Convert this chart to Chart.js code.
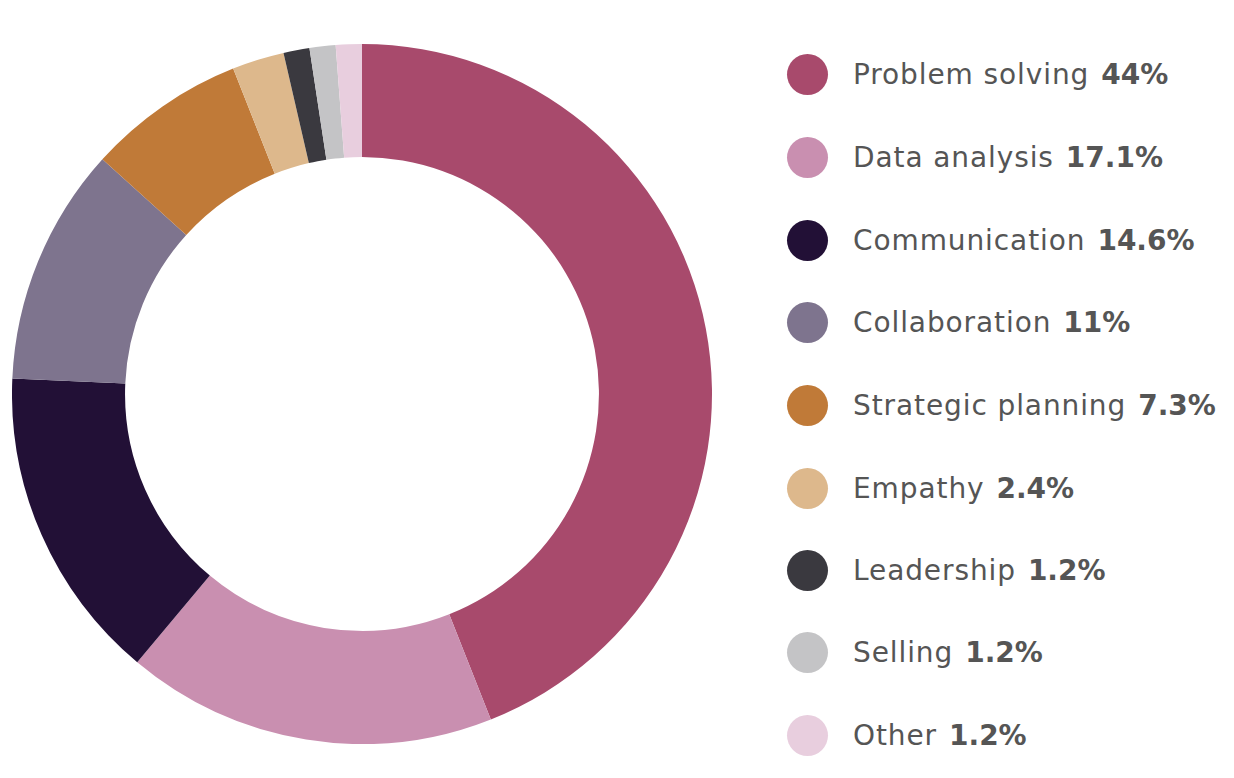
<!DOCTYPE html>
<html>
<head>
<meta charset="utf-8">
<script src="https://cdn.jsdelivr.net/npm/chart.js@4/dist/chart.umd.min.js"></script>
<style>
  html, body { margin: 0; padding: 0; background: #ffffff; width: 1234px; height: 778px; overflow: hidden; }
  #wrap { position: absolute; left: 12px; top: 44px; width: 700px; height: 700px; }
  #legend { position: absolute; left: 787px; top: 0; font-family: "DejaVu Sans", sans-serif; color: #555555; }
  .row { position: absolute; left: 0; height: 42px; display: flex; align-items: center; white-space: nowrap; }
  .dot { width: 41px; height: 41px; border-radius: 50%; flex: none; }
  .lbl { margin-left: 25px; font-size: 28px; font-weight: 400; letter-spacing: 0.9px; }
  .pct { margin-left: 12px; font-size: 28px; font-weight: 700; }
</style>
</head>
<body>
<div id="wrap"><canvas id="c" width="700" height="700"></canvas></div>
<div id="legend"></div>
<script>
const categories = ["Problem solving", "Data analysis", "Communication", "Collaboration", "Strategic planning", "Empathy", "Leadership", "Selling", "Other"];
const shares = [44, 17.1, 14.6, 11, 7.3, 2.4, 1.2, 1.2, 1.2];
const shareLabels = ["44%", "17.1%", "14.6%", "11%", "7.3%", "2.4%", "1.2%", "1.2%", "1.2%"];
const colors = ["#A84A6C", "#C98FB0", "#221036", "#7E748E", "#C07A38", "#DDB88C", "#3A393F", "#C4C4C6", "#E8CEDE"];

new Chart(document.getElementById("c"), {
  type: "doughnut",
  data: {
    labels: categories,
    datasets: [{ data: shares, backgroundColor: colors, borderWidth: 0, hoverOffset: 0 }]
  },
  options: {
    responsive: false,
    animation: false,
    cutout: "67.7%",
    layout: { padding: 0 },
    plugins: { legend: { display: false }, tooltip: { enabled: false } }
  }
});

const rowCenters = [74, 157, 240, 322, 405, 488, 570, 652, 735];
const legend = document.getElementById("legend");
categories.forEach((name, i) => {
  const row = document.createElement("div");
  row.className = "row";
  row.style.top = (rowCenters[i] - 21) + "px";
  const dot = document.createElement("div");
  dot.className = "dot";
  dot.style.background = colors[i];
  const lbl = document.createElement("span");
  lbl.className = "lbl";
  lbl.textContent = name;
  const pct = document.createElement("span");
  pct.className = "pct";
  pct.textContent = shareLabels[i];
  row.appendChild(dot); row.appendChild(lbl); row.appendChild(pct);
  legend.appendChild(row);
});
</script>
</body>
</html>
